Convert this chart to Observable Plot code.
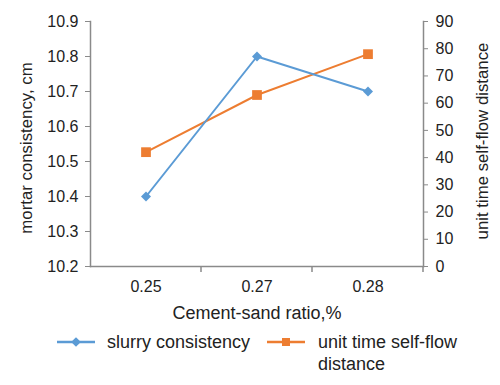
<!DOCTYPE html>
<html><head><meta charset="utf-8">
<script src="https://cdn.jsdelivr.net/npm/d3@7"></script>
<script src="https://cdn.jsdelivr.net/npm/@observablehq/plot@0.6"></script>
<style>
body{margin:0;background:#fff;font-family:"Liberation Sans",Arial,sans-serif;color:#222;}
#wrap{position:relative;width:500px;height:385px;}
.leg{position:absolute;font-size:18px;line-height:22px;color:#222;}
.sw{position:absolute;}
</style></head>
<body><div id="wrap"></div>
<script>
const categories = ["0.25", "0.27", "0.28"];
const slurryConsistency = [10.4, 10.8, 10.7];
const selfFlowDistance = [42, 63, 78];
const leftTicks = [10.2, 10.3, 10.4, 10.5, 10.6, 10.7, 10.8, 10.9];
const rightTicks = [0, 10, 20, 30, 40, 50, 60, 70, 80, 90];
const seriesNames = ["slurry consistency", "unit time self-flow distance"];
const axisTitles = ["mortar consistency, cm", "unit time self-flow distance", "Cement-sand ratio,%"];
const blue = "#5b9bd5", orange = "#ed7d31", gray = "#8a8a8a";

const rs = d3.scaleLinear([0, 90], [10.2, 10.9]);
const rows = categories.map((c, i) => ({c, s: slurryConsistency[i], f: rs(selfFlowDistance[i])}));

const chart = Plot.plot({
  width: 500, height: 325,
  marginLeft: 90, marginRight: 77, marginTop: 21, marginBottom: 59,
  style: {fontFamily: "'Liberation Sans', Arial, sans-serif", fontSize: "16px", color: "#222", background: "#fff"},
  x: {type: "band", domain: categories, padding: 0},
  y: {domain: [10.2, 10.9]},
  marks: [
    Plot.frame({anchor: "left", stroke: gray, strokeWidth: 1.5}),
    Plot.frame({anchor: "right", stroke: gray, strokeWidth: 1.5}),
    Plot.frame({anchor: "bottom", stroke: gray, strokeWidth: 1.5}),
    Plot.axisY(leftTicks, {anchor: "left", tickSize: 5, tickPadding: 7, stroke: gray, tickFormat: d3.format(".1f"), label: null, fontSize: 16}),
    Plot.axisY(rightTicks.map(rs), {anchor: "right", tickSize: 4, tickPadding: 8, stroke: gray, tickFormat: d => Math.round(rs.invert(d)), label: null, fontSize: 16}),
    Plot.axisX({tickSize: 0, tickPadding: 14, label: null, fontSize: 16}),
    Plot.text([axisTitles[0]], {frameAnchor: "left", textAnchor: "middle", lineAnchor: "middle", rotate: -90, dx: -64, dy: 4, fontSize: 16.8, fill: "#222"}),
    Plot.text([axisTitles[1]], {frameAnchor: "right", textAnchor: "middle", lineAnchor: "middle", rotate: -90, dx: 59, dy: -3, fontSize: 16.8, fill: "#222"}),
    Plot.text([axisTitles[2]], {frameAnchor: "bottom", textAnchor: "middle", lineAnchor: "middle", dy: 47, fontSize: 18, fill: "#222"}),
    Plot.lineY(rows, {x: "c", y: "f", stroke: orange, strokeWidth: 2}),
    Plot.dot(rows, {x: "c", y: "f", symbol: "square", r: 5.5, fill: orange, stroke: null}),
    Plot.lineY(rows, {x: "c", y: "s", stroke: blue, strokeWidth: 2}),
    Plot.dot(rows, {x: "c", y: "s", symbol: "diamond2", r: 4.5, fill: blue, stroke: null})
  ]
});
const wrap = document.getElementById("wrap");
wrap.appendChild(chart);

// boundary ticks on x axis between bands
const xs = chart.scale("x");
const svg = d3.select(chart);
const bw = xs.bandwidth;
const bounds = categories.map(c => xs.apply(c)).concat([xs.apply(categories[categories.length-1]) + bw]);
svg.append("g").selectAll("line").data(bounds.slice(1)).join("line")
  .attr("x1", d => d).attr("x2", d => d).attr("y1", 325-59).attr("y2", 325-59+6)
  .attr("stroke", gray).attr("stroke-width", 1.5);

// legend
const leg = d3.select(wrap);
function swatch(x, color, sym, size) {
  const s = leg.append("svg").attr("class", "sw").style("left", x + "px").style("top", "334px").attr("width", 40).attr("height", 16);
  s.append("line").attr("x1", 0).attr("x2", 38).attr("y1", 8).attr("y2", 8).attr("stroke", color).attr("stroke-width", 2.5);
  s.append("path").attr("transform", "translate(19,8)").attr("d", d3.symbol(sym, size)()).attr("fill", color);
}
swatch(57, blue, d3.symbolDiamond2, 60);
leg.append("div").attr("class", "leg").style("left", "107px").style("top", "331px").text(seriesNames[0]);
swatch(267, orange, d3.symbolSquare, 64);
leg.append("div").attr("class", "leg").style("left", "318px").style("top", "331px").style("width", "160px").text(seriesNames[1]);
</script></body></html>
